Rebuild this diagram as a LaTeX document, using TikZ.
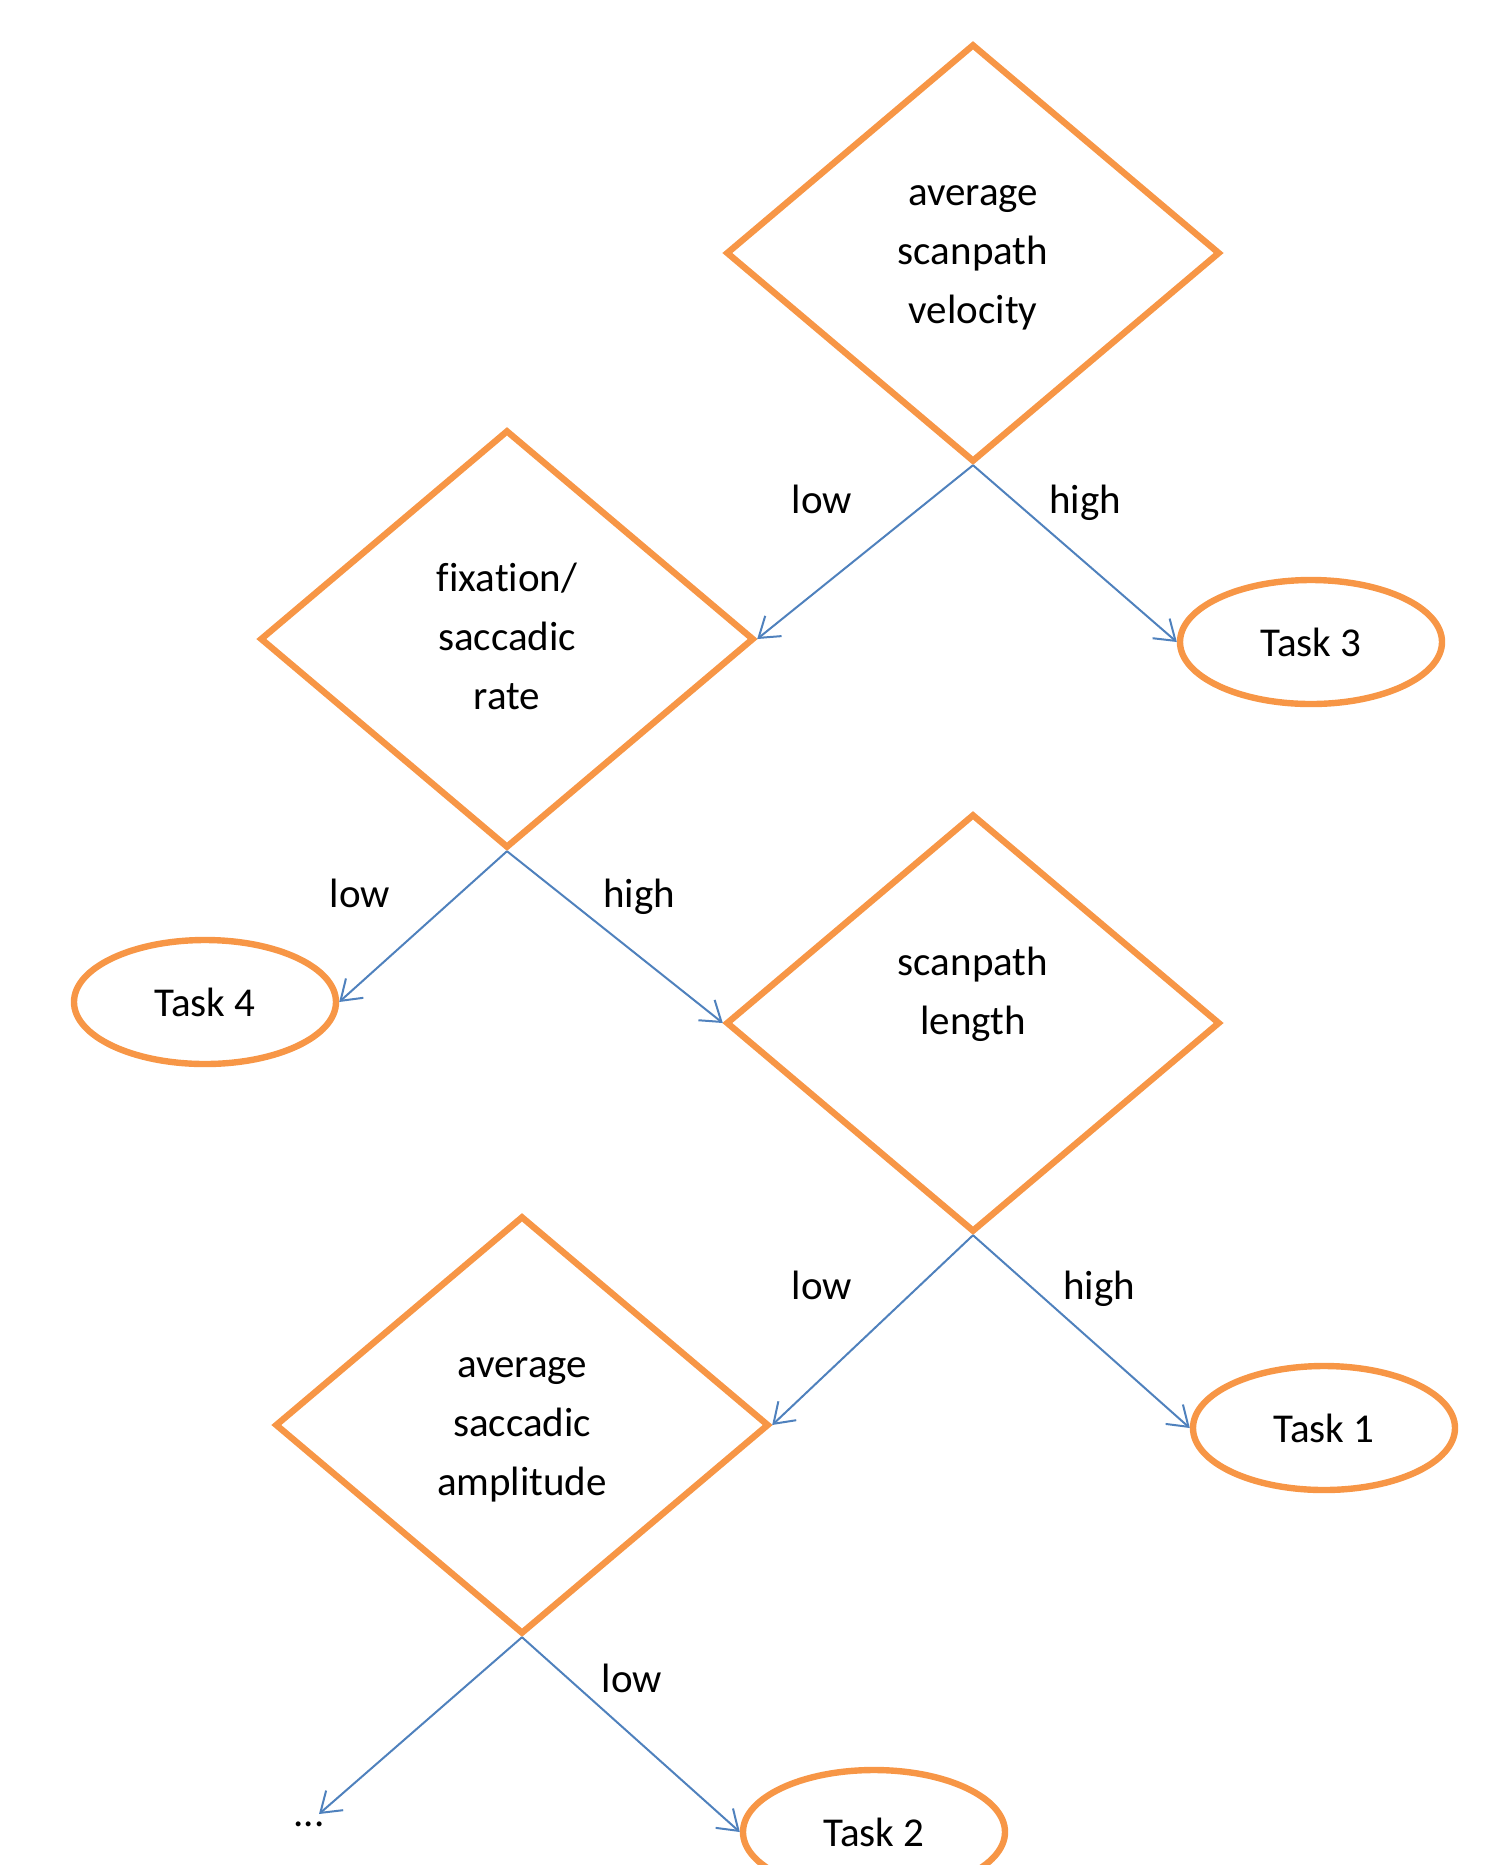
\documentclass[tikz,border=0pt]{standalone}
\usepackage{fontspec}
\setmainfont{Carlito}[Ligatures=NoCommon]
\usetikzlibrary{shapes.geometric,arrows.meta}
\definecolor{boxorange}{HTML}{F79646}
\definecolor{arrowblue}{HTML}{4F81BD}
\begin{document}
\begin{tikzpicture}[x=0.5pt,y=-0.5pt,
  every node/.style={font=\fontsize{20.5pt}{29.5pt}\selectfont, text=black},
  decision/.style={diamond, draw=boxorange, line width=3.2pt, inner sep=0pt,
    minimum width=247pt, minimum height=209pt, align=center},
  task/.style={ellipse, draw=boxorange, line width=3.2pt, inner sep=0pt,
    minimum width=131pt, minimum height=62pt},
  branch/.style={draw=arrowblue, line width=1pt,
    -{Straight Barb[length=9.5pt,width=13pt,line width=1pt]}},
  lbl/.style={anchor=base}
]
\useasboundingbox (0,0) rectangle (1487,1865);
\node[decision] (d1) at (973,253) {\strut average\\scanpath\\velocity\strut};
\node[decision] (d2) at (507,639) {\strut fixation/\\saccadic\\rate\strut};
\node[decision] (d3) at (973,1023) {\strut scanpath\\length\\\strut};
\node[decision] (d4) at (522,1425) {\strut average\\saccadic\\amplitude\strut};
\node[task] (t3) at (1311,642) {Task 3};
\node[task] (t4) at (205,1002) {Task 4};
\node[task] (t1) at (1324,1428) {Task 1};
\node[task] (t2) at (874,1832) {Task 2};
\node[lbl] (dots) at (309,1826) {...};
\coordinate (dotsend) at (319,1814);

\draw[branch] (d1.south) -- (d2.east);
\draw[branch] (d1.south) -- (t3.west);
\draw[branch] (d2.south) -- (t4.east);
\draw[branch] (d2.south) -- (d3.west);
\draw[branch] (d3.south) -- (d4.east);
\draw[branch] (d3.south) -- (t1.west);
\draw[branch] (d4.south) -- (dotsend);
\draw[branch] (d4.south) -- (t2.west);

\node[lbl] (l1) at (822,513) {low};
\node[lbl] (h1) at (1085,513) {high};
\node[lbl] (l2) at (360,907) {low};
\node[lbl] (h2) at (639,907) {high};
\node[lbl] (l3) at (822,1299) {low};
\node[lbl] (h3) at (1099,1299) {high};
\node[lbl] (l4) at (632,1692) {low};
\end{tikzpicture}
\end{document}
